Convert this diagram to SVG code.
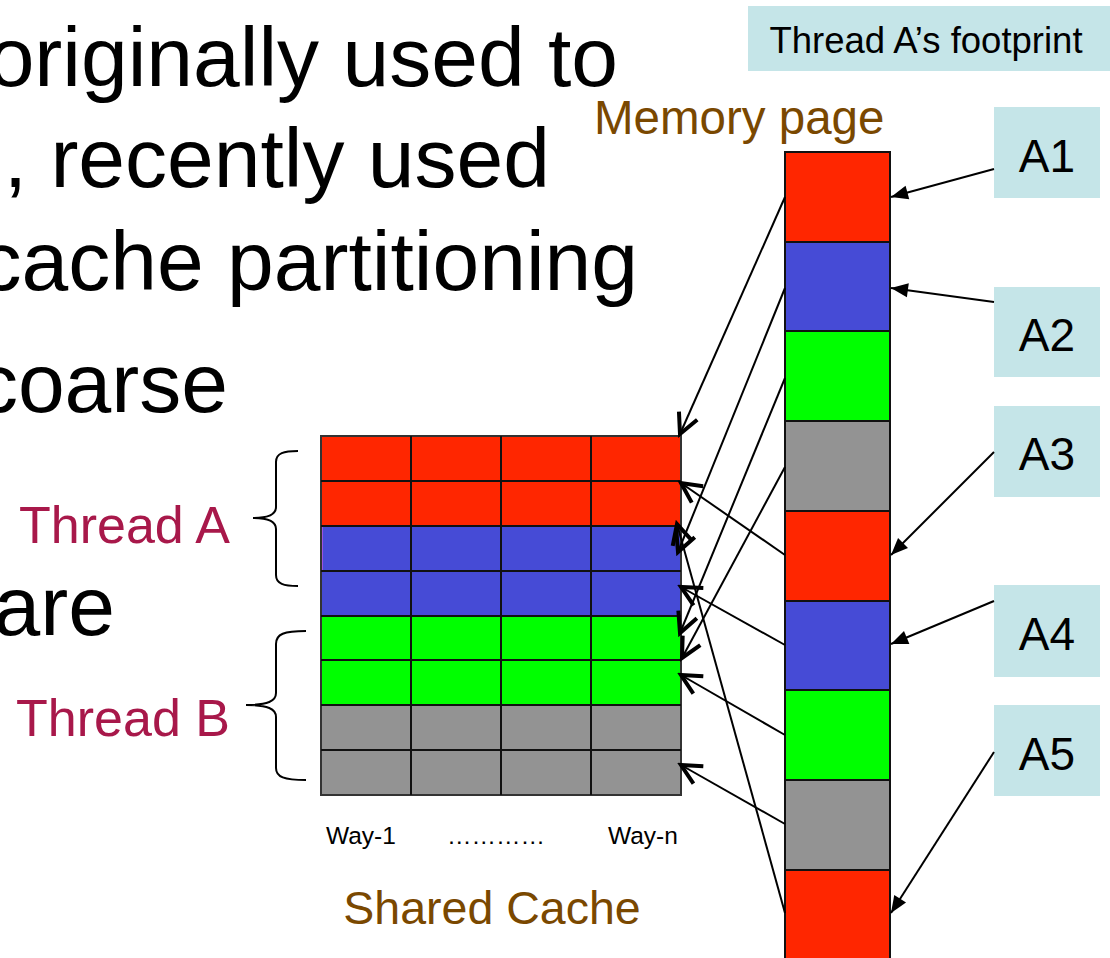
<svg xmlns="http://www.w3.org/2000/svg" width="1110" height="958" viewBox="0 0 1110 958">
<style>
text{font-family:"Liberation Sans",Arial,sans-serif}
.big{font-size:84px;fill:#000}
.brown{fill:#7A4800}
.thr{font-size:52px;fill:#A8184A}
.lab{font-size:46px;fill:#000;text-anchor:middle}
.box{fill:#C5E5E8}
.cell{stroke:#111;stroke-width:2}
.r{fill:#FF2600}.b{fill:#464BD6}.g{fill:#00FF00}.y{fill:#939393}
.brace{fill:none;stroke:#000;stroke-width:2}
.ca{stroke:#000;stroke-width:2;fill:none;marker-end:url(#v)}
.la{stroke:#000;stroke-width:2;fill:none;marker-end:url(#t)}
.way{font-size:24.5px;fill:#000}
</style>
<defs>
<marker id="v" markerUnits="userSpaceOnUse" viewBox="-24 -14 28 28" markerWidth="28" markerHeight="28" refX="0" refY="0" orient="auto">
<path d="M-20,-10 L0,0 L-20,10" fill="none" stroke="#000" stroke-width="4"/>
</marker>
<marker id="t" markerUnits="userSpaceOnUse" viewBox="-18 -9 20 18" markerWidth="20" markerHeight="18" refX="0" refY="0" orient="auto">
<path d="M0,0 L-17,-7 L-17,7 Z" fill="#000"/>
</marker>
</defs>
<rect width="1110" height="958" fill="#fff"/>

<g id="bullet-text">
<text class="big" x="618" y="86" text-anchor="end">originally used to</text>
<text class="big" x="550" y="187" text-anchor="end">, recently used</text>
<text class="big" x="638" y="290" text-anchor="end">cache partitioning</text>
<text class="big" x="228" y="412" text-anchor="end">coarse</text>
<text class="big" x="115" y="635" text-anchor="end">are</text>
</g>

<g id="footprint-title">
<rect class="box" x="748" y="6" width="362" height="65"/>
<text x="926" y="53" font-size="36.5" text-anchor="middle">Thread A’s footprint</text>
</g>

<g id="memory-page-label">
<text class="brown" x="594" y="134" font-size="47.5">Memory page</text>
</g>

<g id="memory-pages">
<rect class="cell r" x="785" y="152" width="105" height="90"/>
<rect class="cell b" x="785" y="242" width="105" height="89"/>
<rect class="cell g" x="785" y="331" width="105" height="90"/>
<rect class="cell y" x="785" y="421" width="105" height="90"/>
<rect class="cell r" x="785" y="511" width="105" height="90"/>
<rect class="cell b" x="785" y="601" width="105" height="89"/>
<rect class="cell g" x="785" y="690" width="105" height="90"/>
<rect class="cell y" x="785" y="780" width="105" height="90"/>
<rect class="cell r" x="785" y="870" width="105" height="100"/>
</g>

<g id="shared-cache">
<rect class="r" x="321" y="436" width="360" height="90"/>
<rect class="b" x="321" y="526" width="360" height="90"/>
<rect class="g" x="321" y="616" width="360" height="89"/>
<rect class="y" x="321" y="705" width="360" height="90"/>
<line x1="322" y1="527" x2="322" y2="570" stroke="#9A52E0" stroke-width="2"/>
<g stroke="#111" stroke-width="2" fill="none">
<rect x="321" y="436" width="360" height="359" stroke="#333"/>
<path d="M411,436V795M501,436V795M591,436V795"/>
<path d="M321,481H681M321,526H681M321,571H681M321,616H681M321,660H681M321,705H681M321,750H681"/>
</g>
<text class="way" x="326" y="844">Way-1</text>
<text class="way" x="447" y="844">…………</text>
<text class="way" x="608" y="844">Way-n</text>
<text class="brown" x="492" y="924" font-size="46.5" text-anchor="middle">Shared Cache</text>
</g>

<g id="thread-a">
<path class="brace" d="M298,451 C284,451 276,453 276,462 L276,507 C276,515 268,518 253,518 C268,518 276,521 276,529 L276,575 C276,584 284,586 298,586"/>
<text class="thr" x="230" y="543" text-anchor="end">Thread A</text>
</g>
<g id="thread-b">
<path class="brace" d="M306,631 C284,631 276,634 276,644 L276,693 C276,701 268,705 246,705 C268,705 276,709 276,717 L276,768 C276,777 284,780 306,780"/>
<text class="thr" x="230" y="736" text-anchor="end">Thread B</text>
</g>

<g id="A1"><rect class="box" x="994" y="107" width="106" height="91"/><text class="lab" x="1047" y="172">A1</text></g>
<g id="A2"><rect class="box" x="994" y="287" width="106" height="90"/><text class="lab" x="1047" y="351">A2</text></g>
<g id="A3"><rect class="box" x="994" y="406" width="106" height="91"/><text class="lab" x="1047" y="470">A3</text></g>
<g id="A4"><rect class="box" x="994" y="585" width="106" height="92"/><text class="lab" x="1047" y="650">A4</text></g>
<g id="A5"><rect class="box" x="994" y="705" width="106" height="91"/><text class="lab" x="1047" y="770">A5</text></g>

<g id="connectors">
<line class="la" x1="994" y1="169" x2="891" y2="197"/>
<line class="la" x1="994" y1="302" x2="891" y2="288"/>
<line class="la" x1="994" y1="452" x2="891" y2="555"/>
<line class="la" x1="994" y1="601" x2="891" y2="644"/>
<line class="la" x1="994" y1="752" x2="891" y2="913"/>

<line class="ca" x1="785" y1="197" x2="680" y2="434"/>
<line class="ca" x1="785" y1="288" x2="678" y2="552"/>
<line class="ca" x1="785" y1="378" x2="680" y2="633"/>
<line class="ca" x1="785" y1="467" x2="682" y2="658"/>
<line class="ca" x1="785" y1="555" x2="681" y2="483"/>
<line class="ca" x1="785" y1="645" x2="681" y2="587"/>
<line class="ca" x1="785" y1="735" x2="681" y2="675"/>
<line class="ca" x1="785" y1="824" x2="681" y2="765"/>
<line class="ca" x1="785" y1="913" x2="677" y2="524"/>
</g>
</svg>
